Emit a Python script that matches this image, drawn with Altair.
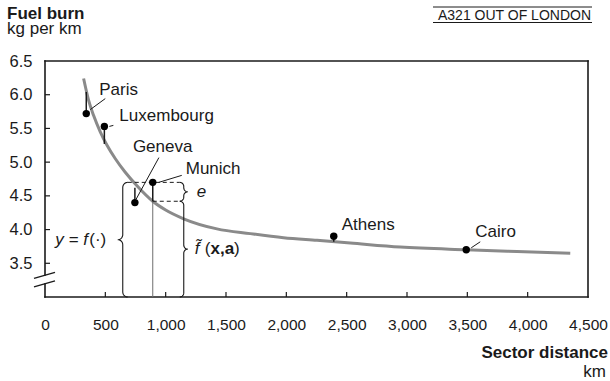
import numpy as np
import pandas as pd
import altair as alt

# ---------------------------------------------------------------- data
cities = ["Paris", "Luxembourg", "Geneva", "Munich", "Athens", "Cairo"]
sector_km = [342, 492, 745, 893, 2393, 3491]
burn_actual = [5.72, 5.53, 4.40, 4.70, 3.90, 3.70]
burn_fitted = [6.04, 5.27, 4.62, 4.42, 3.82, 3.70]

curve_km = [320, 361, 403, 458, 514, 583, 665, 762, 893, 1000,
            1149, 1425, 1701, 1977, 2254, 2530, 2944, 3491, 3911, 4353]
curve_burn = [6.24, 5.92, 5.69, 5.45, 5.25, 5.05, 4.85, 4.65, 4.42, 4.29,
              4.16, 4.01, 3.94, 3.88, 3.84, 3.80, 3.74, 3.70, 3.675, 3.65]

x_ticks = [0, 500, 1000, 1500, 2000, 2500, 3000, 3500, 4000, 4500]
y_ticks = [3.5, 4.0, 4.5, 5.0, 5.5, 6.0, 6.5]

ANNOTATED = "Munich"

# ---------------------------------------------------------------- layout
X_MAX, Y_MIN, Y_MAX = 4500, 3.0, 6.5
W, H = 543, 236
KM_PER_PX = X_MAX / W
BURN_PER_PX = (Y_MAX - Y_MIN) / H

FONT = "Liberation Sans"
INK = "#1a1a1a"
CURVE = "#8a8a8a"
LABEL_SIZE = 17


def to_px(km, burn):
    return km / KM_PER_PX, (Y_MAX - burn) / BURN_PER_PX


def to_data(px, py):
    return px * KM_PER_PX, Y_MAX - py * BURN_PER_PX


def shifted(km, burn, dx, dy):
    px, py = to_px(km, burn)
    return to_data(px + dx, py + dy)


xscale = alt.Scale(domain=[0, X_MAX], nice=False, zero=False)
yscale = alt.Scale(domain=[Y_MIN, Y_MAX], nice=False, zero=False)
xaxis = alt.Axis(values=x_ticks, format=",.0f", labelFontSize=15.5, labelPadding=20,
                 labelColor=INK, labelFont=FONT, domain=False, ticks=False,
                 tickSize=0, grid=False, labelFlush=False, labelOverlap=False)
yaxis = alt.Axis(values=y_ticks, format=".1f", labelFontSize=16.5, labelPadding=13,
                 labelColor=INK, labelFont=FONT, domain=False, ticks=False,
                 tickSize=0, grid=False, labelFlush=False, labelOverlap=False)


def X(field):
    return alt.X(field, type="quantitative", scale=xscale, axis=xaxis, title=None)


def Y(field):
    return alt.Y(field, type="quantitative", scale=yscale, axis=yaxis, title=None)


# ---------------------------------------------------------------- frame with axis break
BREAK_HI, BREAK_LO = 3.326, 3.193
frame_df = pd.DataFrame({
    "x": [0, X_MAX, 0, 0, 0],
    "x2": [X_MAX, X_MAX, X_MAX, 0, 0],
    "y": [Y_MAX, Y_MAX, Y_MIN, Y_MAX, BREAK_LO],
    "y2": [Y_MAX, Y_MIN, Y_MIN, BREAK_HI, Y_MIN],
})
frame = alt.Chart(frame_df).mark_rule(color=INK, strokeWidth=1.6, strokeCap="square").encode(
    x=X("x"), x2="x2", y=Y("y"), y2="y2")

slash_rows = []
for base, (dy1, dy2) in ((BREAK_HI, (3.3, -2.7)), (BREAK_LO, (3.0, -3.0))):
    a = shifted(0, base, -11, dy1)
    b = shifted(0, base, 10, dy2)
    slash_rows.append({"x": a[0], "y": a[1], "x2": b[0], "y2": b[1]})
slashes = alt.Chart(pd.DataFrame(slash_rows)).mark_rule(color=INK, strokeWidth=1.3).encode(
    x=X("x"), x2="x2", y=Y("y"), y2="y2")

xt = alt.Chart(pd.DataFrame({"t": x_ticks[1:-1]})).mark_rule(color=INK, strokeWidth=1.2).encode(
    x=X("t"), y=alt.value(H), y2=alt.value(H - 5))
yt = alt.Chart(pd.DataFrame({"t": y_ticks[:-1]})).mark_rule(color=INK, strokeWidth=1.2).encode(
    y=Y("t"), x=alt.value(0), x2=alt.value(5))

# ---------------------------------------------------------------- fitted curve and cities
curve_df = pd.DataFrame({"km": curve_km, "burn": curve_burn})
curve = alt.Chart(curve_df).mark_line(color=CURVE, strokeWidth=3, interpolate="monotone").encode(
    x=X("km"), y=Y("burn"))

city_df = pd.DataFrame({"city": cities, "km": sector_km,
                        "actual": burn_actual, "fitted": burn_fitted})
city_df["floor"] = Y_MIN

mun = city_df[city_df.city == ANNOTATED].iloc[0]

guide = alt.Chart(city_df[city_df.city == ANNOTATED]).mark_rule(color="#6e6e6e", strokeWidth=1).encode(
    x=X("km"), y=Y("fitted"), y2="floor")

residuals = alt.Chart(city_df).mark_rule(color=INK, strokeWidth=1.5).encode(
    x=X("km"), y=Y("actual"), y2="fitted")

dots = alt.Chart(city_df).mark_circle(size=55, color="black", opacity=1).encode(
    x=X("km"), y=Y("actual"))

# label placement in pixels relative to each dot: (label dx, dy), leader start, leader end
placement = {
    "Paris": ((13, -24), (4, -4), (19, -15)),
    "Luxembourg": ((15, -10), (5, 0), (9, -1)),
    "Geneva": ((-2, -56), (1, -3), (24, -45)),
    "Munich": ((33, -13), (6, 0), (29, -7)),
    "Athens": ((8, -11), None, None),
    "Cairo": ((9, -18), (5, -2), (14, -8)),
}
label_rows, leader_rows = [], []
for c, km, b in zip(cities, sector_km, burn_actual):
    (ldx, ldy), s, e = placement[c]
    lx, ly = shifted(km, b, ldx, ldy)
    label_rows.append({"x": lx, "y": ly, "text": c})
    if s is not None:
        sx, sy = shifted(km, b, *s)
        ex, ey = shifted(km, b, *e)
        leader_rows.append({"x": sx, "y": sy, "x2": ex, "y2": ey})

leaders = alt.Chart(pd.DataFrame(leader_rows)).mark_rule(color=INK, strokeWidth=1).encode(
    x=X("x"), x2="x2", y=Y("y"), y2="y2")
labels = alt.Chart(pd.DataFrame(label_rows)).mark_text(
    align="left", baseline="middle", font=FONT, fontSize=LABEL_SIZE, color=INK).encode(
    x=X("x"), y=Y("y"), text="text:N")

# ---------------------------------------------------------------- braces around the Munich example
R_LEFT, R_RIGHT = 5, 4
left_x = shifted(mun.km, 0, -30, 0)[0]
right_x = shifted(mun.km, 0, 31, 0)[0]


def brace(km_x, top, bot, side, r, name):
    X0, Yt = to_px(km_x, top)
    _, Yb = to_px(km_x, bot)
    Ym = (Yt + Yb) / 2
    phis = np.linspace(0, np.pi / 2, 8)
    pts = []
    cx, cy = X0 - side * r, Yt + r
    for p in phis[::-1]:
        pts.append((cx + side * r * np.cos(p), cy - r * np.sin(p)))
    cx, cy = X0 + side * r, Ym - r
    for p in phis:
        pts.append((cx - side * r * np.cos(p), cy + r * np.sin(p)))
    cx, cy = X0 + side * r, Ym + r
    for p in phis:
        pts.append((cx - side * r * np.sin(p), cy - r * np.cos(p)))
    cx, cy = X0 - side * r, Yb - r
    for p in phis:
        pts.append((cx + side * r * np.cos(p), cy + r * np.sin(p)))
    rows = []
    for i, (px, py) in enumerate(pts):
        k, v = to_data(px, py)
        rows.append({"km": k, "burn": v, "brace": name, "i": i})
    tip = to_data(X0 + side * r, Ym)
    return rows, tip


rows_y, tip_y = brace(left_x, mun.actual, Y_MIN, -1, R_LEFT, "y")
rows_e, tip_e = brace(right_x, mun.actual, mun.fitted, 1, R_RIGHT, "e")
rows_f, tip_f = brace(right_x, mun.fitted, Y_MIN, 1, R_RIGHT, "f")
braces = alt.Chart(pd.DataFrame(rows_y + rows_e + rows_f)).mark_line(
    color=INK, strokeWidth=1.1).encode(
    x=X("km"), y=Y("burn"), detail="brace:N", order=alt.Order("i:Q"))

top_a = shifted(left_x, mun.actual, R_LEFT, 0)[0]
top_b = shifted(right_x, mun.actual, -R_RIGHT, 0)[0]
dash_df = pd.DataFrame({
    "x": [top_a, mun.km],
    "x2": [top_b, top_b],
    "y": [mun.actual, mun.fitted],
})
dashes = alt.Chart(dash_df).mark_rule(color=INK, strokeWidth=1, strokeDash=[4, 3]).encode(
    x=X("x"), x2="x2", y=Y("y"), y2="y")


def brace_text(tip, dx, text, align="left", **style):
    x, y = shifted(tip[0], tip[1], dx, 0)
    return alt.Chart(pd.DataFrame({"x": [x], "y": [y], "t": [text]})).mark_text(
        align=align, baseline="middle", font=FONT, fontSize=LABEL_SIZE, color=INK, **style).encode(
        x=X("x"), y=Y("y"), text="t:N")


brace_labels = [
    brace_text(tip_e, 9, "e", fontStyle="italic"),
    brace_text(tip_f, 7, "f\u0303", fontStyle="italic"),
    brace_text(tip_f, 17, "("),
    brace_text(tip_f, 22.7, "x,a", fontWeight="bold"),
    brace_text(tip_f, 46.3, ")"),
    brace_text(tip_y, -62.5, "y = f", fontStyle="italic"),
    brace_text(tip_y, -28.5, "(\u00b7)"),
]

# ---------------------------------------------------------------- titles
def header(text, x, y, align="left", size=LABEL_SIZE, weight="normal"):
    return alt.Chart(pd.DataFrame({"t": [text]})).mark_text(
        align=align, baseline="alphabetic", font=FONT, fontSize=size,
        fontWeight=weight, color=INK).encode(
        x=alt.value(x), y=alt.value(y), text="t:N")


headers = [
    header("Fuel burn", -38, -42.5, weight="bold"),
    header("kg per km", -38, -27),
    header("A321 OUT OF LONDON", 546, -41, align="right", size=14),
    header("Sector distance", 563, 296.7, align="right", weight="bold"),
    header("km", 561, 316, align="right"),
]
header_rules = [
    alt.Chart(pd.DataFrame({"k": [0]})).mark_rule(color=INK, strokeWidth=1).encode(
        x=alt.value(388), x2=alt.value(547), y=alt.value(yy))
    for yy in (-54, -38.5)
]

chart = alt.layer(
    frame, slashes, xt, yt, curve, guide, residuals, dashes, braces,
    dots, leaders, labels, *brace_labels, *headers, *header_rules,
).properties(
    width=W, height=H,
    autosize=alt.AutoSizeParams(type="none"),
    padding={"left": 45, "top": 61, "right": 22, "bottom": 84},
).configure_view(stroke=None)

chart.save("out.html", embed_options={"renderer": "svg", "actions": False})
